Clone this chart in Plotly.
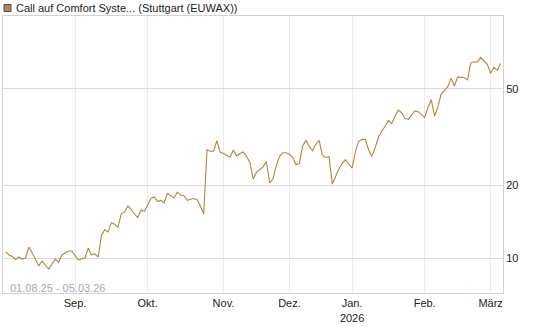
import pandas as pd
import plotly.graph_objects as go

# Trading days (Stuttgart) 01.08.25 - 05.03.26
holidays = ["2025-12-24", "2025-12-25", "2025-12-26", "2025-12-31"]
dates = pd.bdate_range("2025-08-01", "2026-03-05")
dates = dates[~dates.isin(pd.to_datetime(holidays))]

prices = [
    10.6, 10.3, 10.15, 9.85, 10.1, 9.9, 10.0, 11.1, 10.5, 9.9,
    9.3, 9.7, 9.3, 9.0, 9.45, 9.9, 9.6, 10.3, 10.5, 10.7,
    10.7, 10.2, 9.8, 9.9, 10.0, 11.0, 10.3, 10.4, 10.1, 12.4,
    13.1, 12.8, 14.0, 13.8, 13.4, 15.2, 15.5, 16.4, 15.9, 15.2,
    14.7, 15.8, 15.6, 16.5, 17.6, 17.9, 17.1, 17.3, 16.9, 18.5,
    18.1, 17.7, 18.7, 18.2, 18.1, 17.3, 17.5, 17.6, 17.4, 16.4,
    15.2, 28.0, 27.6, 27.6, 30.5, 27.3, 27.0, 26.6, 26.1, 27.9,
    26.4, 27.0, 27.4, 26.3, 24.8, 21.2, 22.6, 23.2, 23.8, 25.0,
    20.4, 21.2, 24.0, 26.3, 27.2, 27.2, 26.8, 26.0, 24.3, 24.5,
    29.0, 30.6, 28.9, 27.8, 29.5, 30.6, 26.5, 26.0, 26.2, 20.2,
    21.8, 23.3, 24.6, 25.5, 24.4, 23.5, 27.5, 30.3, 30.9, 30.9,
    28.0, 26.3, 28.6, 31.5, 33.5, 34.9, 37.0, 35.9, 38.5, 40.8,
    39.8, 37.8, 37.4, 38.8, 40.5, 40.2, 39.0, 38.1, 41.8, 45.0,
    38.6, 42.0, 47.5, 49.5, 51.0, 55.3, 51.3, 55.8, 55.8, 55.6,
    54.4, 64.1, 64.6, 64.5, 67.3, 65.4, 63.0, 57.9, 61.3, 59.5,
    63.5,
]

month_labels = ["Sep.", "Okt.", "Nov.", "Dez.", "Jan.<br>2026", "Feb.", "März"]
month_starts = ["2025-09", "2025-10", "2025-11", "2025-12", "2026-01", "2026-02", "2026-03"]
y_ticks = [10, 20, 50]

title_text = "Call auf Comfort Syste... (Stuttgart (EUWAX))"
range_text = "01.08.25 - 05.03.26"

n = min(len(prices), len(dates))
x_idx = list(range(n))
period = dates[:n].to_period("M").astype(str)
tickvals = [int((period == m).argmax()) for m in month_starts]

line_color = "#b5863a"
font_family = "Liberation Sans, Arial, sans-serif"

fig = go.Figure()
fig.add_trace(go.Scatter(
    x=x_idx, y=prices[:n], mode="lines",
    line=dict(color=line_color, width=1.1),
    hoverinfo="skip", showlegend=False,
))

W, H = 545, 327
ml, mr, mt, mb = 3, 42, 16, 34
pw, ph = W - ml - mr, H - mt - mb

def px_x(p):
    return (p - ml) / pw

def px_y(p):
    return (H - mb - p) / ph

fig.update_layout(
    width=W, height=H,
    margin=dict(l=ml, r=mr, t=mt, b=mb),
    paper_bgcolor="white", plot_bgcolor="white",
    font=dict(family=font_family, size=11, color="#222"),
    xaxis=dict(
        range=[-0.85, 150.75],
        tickmode="array", tickvals=tickvals, ticktext=month_labels,
        showgrid=True, gridcolor="#ebebeb", gridwidth=1,
        showline=True, linecolor="#d2d2d2", linewidth=1, mirror=True,
        zeroline=False, ticks="", tickfont=dict(size=11, color="#222"),
        fixedrange=True,
    ),
    yaxis=dict(
        type="log", side="right",
        range=[0.8557, 1.9992],
        tickmode="array", tickvals=y_ticks, ticktext=[str(v) for v in y_ticks],
        showgrid=True, gridcolor="#dadada", gridwidth=1,
        showline=True, linecolor="#d2d2d2", linewidth=1, mirror=True,
        zeroline=False, ticks="", tickfont=dict(size=11, color="#222"),
        fixedrange=True,
    ),
    shapes=[dict(
        type="rect", xref="paper", yref="paper",
        x0=px_x(4), x1=px_x(11), y0=px_y(11.5), y1=px_y(4.5),
        fillcolor="#b58a4e", line=dict(color="#5b4a33", width=1),
    )],
    annotations=[
        dict(text=title_text, xref="paper", yref="paper",
             x=px_x(14), y=px_y(7.5), xanchor="left", yanchor="middle",
             showarrow=False, font=dict(size=11, color="#222")),
        dict(text=range_text, xref="paper", yref="paper",
             x=px_x(7.5), y=px_y(287.5), xanchor="left", yanchor="middle",
             showarrow=False, font=dict(size=11, color="#a3abb8")),
    ],
)

fig.write_html("out.html")
